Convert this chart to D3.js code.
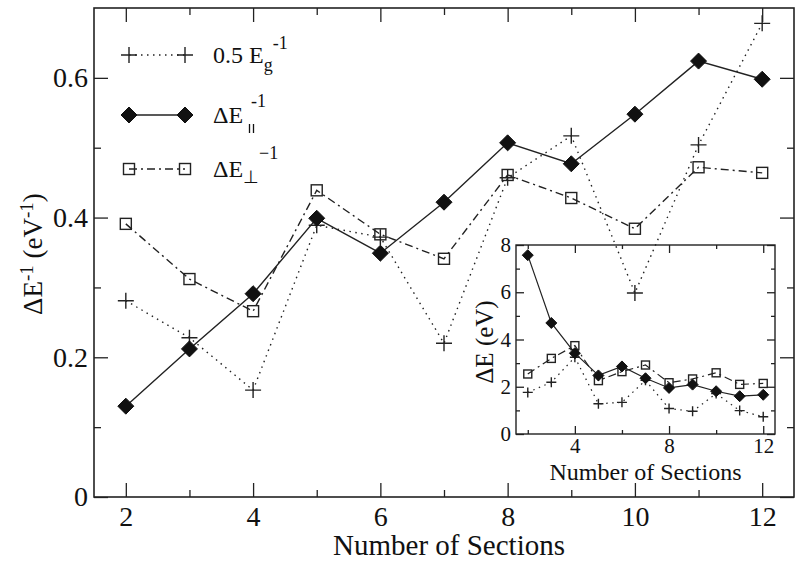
<!DOCTYPE html>
<html lang="en">
<head>
  <meta charset="UTF-8">
  <title>Delta E vs Number of Sections</title>
  <script src="https://d3js.org/d3.v7.min.js"></script>
  <style>
    body { margin: 0; background: #fff; }
    svg { font-family: "Liberation Serif", "Times New Roman", serif; }
    text, tspan { fill: #111; }
    .tick line { stroke: #222; stroke-width: 1.3; }
  </style>
</head>
<body>
  <svg width="800" height="562"></svg>
  <script>
    // --- data ---
    const sections = [2, 3, 4, 5, 6, 7, 8, 9, 10, 11, 12];
    const halfEgInv = [0.281, 0.228, 0.153, 0.389, 0.372, 0.220, 0.457, 0.517, 0.292, 0.504, 0.678];
    const dEparInv  = [0.130, 0.212, 0.291, 0.399, 0.349, 0.422, 0.507, 0.477, 0.548, 0.624, 0.598];
    const dEperpInv = [0.391, 0.312, 0.266, 0.439, 0.376, 0.341, 0.461, 0.428, 0.384, 0.472, 0.464];

    // inset (eV)
    const insetEg    = [1.76, 2.19, 3.25, 1.28, 1.34, 2.27, 1.08, 0.96, 1.71, 0.99, 0.73];
    const insetPar   = [7.57, 4.70, 3.42, 2.48, 2.86, 2.36, 1.95, 2.09, 1.81, 1.60, 1.66];
    const insetPerp  = [2.54, 3.20, 3.74, 2.26, 2.64, 2.92, 2.17, 2.33, 2.59, 2.10, 2.14];

    const xMajor = [2, 4, 6, 8, 10, 12];
    const xMinor = [3, 5, 7, 9, 11];
    const yMajor = [0, 0.2, 0.4, 0.6];
    const yMinor = [0.1, 0.3, 0.5];
    const insetXMajor = [4, 8, 12];
    const insetXMinor = [2, 6, 10];
    const insetYMajor = [0, 2, 4, 6, 8];
    const insetYMinor = [1, 3, 5, 7];

    const svg = d3.select("svg");

    // --- main scales ---
    const L = 94, R = 794, T = 8, B = 497;
    const x = d3.scaleLinear().domain([1.5, 12.5]).range([L, R]);
    const y = d3.scaleLinear().domain([0, 0.7]).range([B, T]);

    function ticks(g, axis) {
      g.call(axis).call(s => s.select(".domain").remove());
    }
    const fmt = d => d === 0 ? "0" : d3.format(".1f")(d);

    // major + minor ticks on all 4 sides, pointing inward
    const main = svg.append("g");
    main.append("g").attr("transform", `translate(0,${B})`)
      .call(g => ticks(g, d3.axisBottom(x).tickValues(xMajor).tickSize(-14).tickPadding(9).tickFormat(d3.format("d"))));
    main.append("g").attr("transform", `translate(0,${B})`)
      .call(g => ticks(g, d3.axisBottom(x).tickValues(xMinor).tickSize(-7).tickFormat("")));
    main.append("g").attr("transform", `translate(0,${T})`)
      .call(g => ticks(g, d3.axisTop(x).tickValues(xMajor).tickSize(-14).tickFormat("")));
    main.append("g").attr("transform", `translate(0,${T})`)
      .call(g => ticks(g, d3.axisTop(x).tickValues(xMinor).tickSize(-7).tickFormat("")));
    main.append("g").attr("transform", `translate(${L},0)`)
      .call(g => ticks(g, d3.axisLeft(y).tickValues(yMajor).tickSize(-14).tickPadding(6).tickFormat(fmt)));
    main.append("g").attr("transform", `translate(${L},0)`)
      .call(g => ticks(g, d3.axisLeft(y).tickValues(yMinor).tickSize(-7).tickFormat("")));
    main.append("g").attr("transform", `translate(${R},0)`)
      .call(g => ticks(g, d3.axisRight(y).tickValues(yMajor).tickSize(-14).tickFormat("")));
    main.append("g").attr("transform", `translate(${R},0)`)
      .call(g => ticks(g, d3.axisRight(y).tickValues(yMinor).tickSize(-7).tickFormat("")));
    main.selectAll(".tick text").attr("font-family", "Liberation Serif").attr("font-size", 28);

    svg.append("rect").attr("x", L).attr("y", T).attr("width", R - L).attr("height", B - T)
      .attr("fill", "none").attr("stroke", "#222").attr("stroke-width", 1.6);

    // axis titles
    svg.append("text").attr("x", (L + R) / 2 + 5).attr("y", 555).attr("text-anchor", "middle")
      .attr("font-size", 29).text("Number of Sections");

    const yt = svg.append("text").attr("transform", "translate(42,254) rotate(-90)")
      .attr("text-anchor", "middle").attr("font-size", 27);
    yt.append("tspan").text("ΔE");
    yt.append("tspan").attr("baseline-shift", "45%").attr("font-size", 19).text("-1");
    yt.append("tspan").text(" (eV");
    yt.append("tspan").attr("baseline-shift", "45%").attr("font-size", 19).text("-1");
    yt.append("tspan").text(")");

    // markers
    function plus(g, cx, cy, s) {
      g.append("path").attr("d", `M${cx - s},${cy}H${cx + s}M${cx},${cy - s}V${cy + s}`)
        .attr("stroke", "#222").attr("stroke-width", 1.4).attr("fill", "none");
    }
    function diamond(g, cx, cy, s) {
      g.append("path").attr("d", `M${cx},${cy - s}L${cx + s},${cy}L${cx},${cy + s}L${cx - s},${cy}Z`)
        .attr("fill", "#111").attr("stroke", "#111");
    }
    function square(g, cx, cy, s) {
      g.append("rect").attr("x", cx - s).attr("y", cy - s).attr("width", 2 * s).attr("height", 2 * s)
        .attr("fill", "none").attr("stroke", "#222").attr("stroke-width", 1.4);
    }

    const series = [
      { vals: dEperpInv, ins: insetPerp, dash: "8,4,2,4", mark: square, s: 5.5, si: 4 },
      { vals: halfEgInv, ins: insetEg, dash: "1.5,4.5", mark: plus, s: 8, si: 5 },
      { vals: dEparInv, ins: insetPar, dash: null, mark: diamond, s: 8, si: 5.5 }
    ];

    const line = d3.line().x(d => x(d[0])).y(d => y(d[1]));

    // --- inset ---
    const iL = 516, iR = 775, iT = 245, iB = 434;
    const ix = d3.scaleLinear().domain([1.5, 12.5]).range([iL, iR]);
    const iy = d3.scaleLinear().domain([0, 8]).range([iB, iT]);
    const iline = d3.line().x(d => ix(d[0])).y(d => iy(d[1]));

    const inset = svg.append("g");
    inset.append("g").attr("transform", `translate(0,${iB})`)
      .call(g => ticks(g, d3.axisBottom(ix).tickValues(insetXMajor).tickSize(-8).tickPadding(4).tickFormat(d3.format("d"))));
    inset.append("g").attr("transform", `translate(0,${iB})`)
      .call(g => ticks(g, d3.axisBottom(ix).tickValues(insetXMinor).tickSize(-4).tickFormat("")));
    inset.append("g").attr("transform", `translate(0,${iT})`)
      .call(g => ticks(g, d3.axisTop(ix).tickValues(insetXMajor).tickSize(-8).tickFormat("")));
    inset.append("g").attr("transform", `translate(0,${iT})`)
      .call(g => ticks(g, d3.axisTop(ix).tickValues(insetXMinor).tickSize(-4).tickFormat("")));
    inset.append("g").attr("transform", `translate(${iL},0)`)
      .call(g => ticks(g, d3.axisLeft(iy).tickValues(insetYMajor).tickSize(-8).tickPadding(5).tickFormat(d3.format("d"))));
    inset.append("g").attr("transform", `translate(${iL},0)`)
      .call(g => ticks(g, d3.axisLeft(iy).tickValues(insetYMinor).tickSize(-4).tickFormat("")));
    inset.append("g").attr("transform", `translate(${iR},0)`)
      .call(g => ticks(g, d3.axisRight(iy).tickValues(insetYMajor).tickSize(-8).tickFormat("")));
    inset.append("g").attr("transform", `translate(${iR},0)`)
      .call(g => ticks(g, d3.axisRight(iy).tickValues(insetYMinor).tickSize(-4).tickFormat("")));
    inset.selectAll(".tick text").attr("font-family", "Liberation Serif").attr("font-size", 21);
    inset.selectAll(".tick line").attr("stroke-width", 1.1);

    inset.append("rect").attr("x", iL).attr("y", iT).attr("width", iR - iL).attr("height", iB - iT)
      .attr("fill", "none").attr("stroke", "#222").attr("stroke-width", 1.4);
    inset.append("text").attr("x", (iL + iR) / 2).attr("y", 480).attr("text-anchor", "middle")
      .attr("font-size", 24).text("Number of Sections");
    inset.append("text").attr("transform", "translate(493,342) rotate(-90)")
      .attr("text-anchor", "middle").attr("font-size", 25).text("ΔE (eV)");

    series.forEach(sr => {
      const pts = sections.map((n, i) => [n, sr.vals[i]]);
      svg.append("path").attr("d", line(pts)).attr("fill", "none")
        .attr("stroke", "#222").attr("stroke-width", 1.4)
        .attr("stroke-dasharray", sr.dash);
      const g = svg.append("g");
      pts.forEach(p => sr.mark(g, x(p[0]), y(p[1]), sr.s));

      const ipts = sections.map((n, i) => [n, sr.ins[i]]);
      inset.append("path").attr("d", iline(ipts)).attr("fill", "none")
        .attr("stroke", "#222").attr("stroke-width", 1.2)
        .attr("stroke-dasharray", sr.dash);
      const ig = inset.append("g");
      ipts.forEach(p => sr.mark(ig, ix(p[0]), iy(p[1]), sr.si));
    });

    // --- legend ---
    const leg = svg.append("g");
    const rows = [
      { sr: series[1], yy: 55 },
      { sr: series[2], yy: 115 },
      { sr: series[0], yy: 169 }
    ];
    rows.forEach(r => {
      leg.append("line").attr("x1", 129).attr("x2", 185).attr("y1", r.yy).attr("y2", r.yy)
        .attr("stroke", "#222").attr("stroke-width", 1.4).attr("stroke-dasharray", r.sr.dash);
      r.sr.mark(leg, 129, r.yy, r.sr.s);
      r.sr.mark(leg, 185, r.yy, r.sr.s);
    });

    const t1 = leg.append("text").attr("x", 213).attr("y", 63).attr("font-size", 24);
    t1.append("tspan").text("0.5 E");
    t1.append("tspan").attr("font-size", 18).attr("dy", 8).text("g");
    t1.append("tspan").attr("font-size", 18).attr("dy", -22).text("-1");

    // parallel subscript drawn as two short strokes
    const t2 = leg.append("text").attr("x", 213).attr("y", 123).attr("font-size", 24);
    t2.append("tspan").text("ΔE");
    t2.append("tspan").attr("font-size", 18).attr("dx", 8).attr("dy", -16).text("-1");
    leg.append("path").attr("d", "M249.5,124V133M253.5,124V133")
      .attr("stroke", "#111").attr("stroke-width", 1.3);

    const t3 = leg.append("text").attr("x", 213).attr("y", 177).attr("font-size", 24);
    t3.append("tspan").text("ΔE");
    t3.append("tspan").attr("font-size", 18).attr("dy", 6).text("⊥");
    t3.append("tspan").attr("font-size", 18).attr("dy", -24).text("−1");
  </script>
</body>
</html>
